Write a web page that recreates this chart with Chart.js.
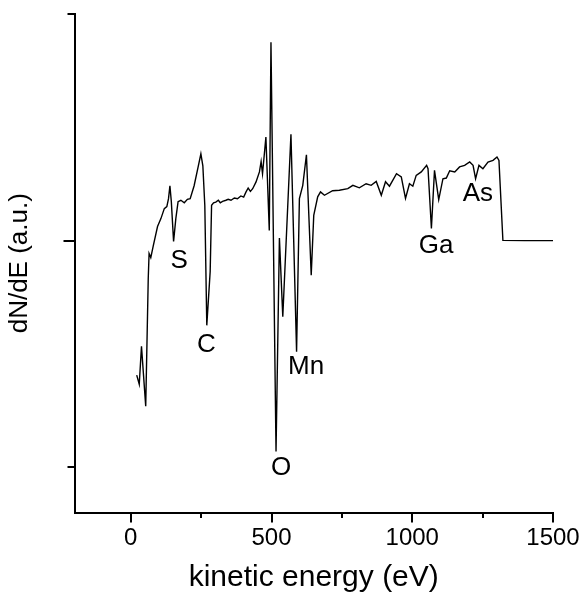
<!DOCTYPE html>
<html>
<head>
<meta charset="utf-8">
<script src="https://cdn.jsdelivr.net/npm/chart.js@4.4.1/dist/chart.umd.min.js"></script>
<style>
  html, body { margin: 0; padding: 0; background: #fff; }
  #wrap { width: 579px; height: 596px; }
</style>
</head>
<body>
<div id="wrap"><canvas id="aes"></canvas></div>
<script>
// Auger spectrum
const energy = [21, 30, 38, 53, 62, 65, 71, 80, 95, 107, 119, 128, 134, 139, 144, 152, 160, 168, 178, 190, 201, 211, 225, 240, 249, 256, 263, 270, 282, 287, 294, 302, 311, 318, 326, 338, 346, 356, 368, 379, 391, 401, 409, 417, 425, 433, 445, 457, 463, 468, 480, 492, 498, 516, 528, 540, 569, 589, 599, 611, 624, 641, 650, 664, 674, 688, 717, 741, 771, 789, 812, 836, 854, 872, 890, 905, 919, 944, 961, 976, 990, 1002, 1014, 1032, 1051, 1056, 1068, 1079, 1094, 1109, 1121, 1133, 1151, 1168, 1186, 1204, 1216, 1225, 1237, 1251, 1269, 1287, 1301, 1308, 1322, 1400, 1500];
const dNdE = [-0.594, -0.634, -0.467, -0.731, -0.167, -0.057, -0.075, -0.022, 0.062, 0.097, 0.141, 0.150, 0.185, 0.242, 0.172, -0.004, 0.097, 0.172, 0.178, 0.167, 0.182, 0.185, 0.242, 0.330, 0.383, 0.330, 0.154, -0.374, -0.137, 0.156, 0.167, 0.170, 0.178, 0.167, 0.173, 0.178, 0.182, 0.178, 0.188, 0.185, 0.197, 0.192, 0.214, 0.232, 0.217, 0.229, 0.259, 0.303, 0.349, 0.295, 0.457, 0.045, 0.875, -0.931, 0.011, -0.336, 0.469, -0.490, 0.185, 0.244, 0.379, -0.153, 0.111, 0.193, 0.215, 0.200, 0.220, 0.222, 0.229, 0.244, 0.233, 0.251, 0.244, 0.261, 0.200, 0.260, 0.240, 0.295, 0.281, 0.186, 0.251, 0.240, 0.288, 0.303, 0.332, 0.317, 0.053, 0.310, 0.181, 0.273, 0.276, 0.308, 0.303, 0.325, 0.332, 0.347, 0.332, 0.273, 0.332, 0.317, 0.346, 0.354, 0.369, 0.354, 0.001, 0, 0];

const xTicks = [0, 250, 500, 750, 1000, 1250, 1500];
const yTicks = [-1, 0, 1];

// element labels, placed in data units
const peakNames = ['S', 'C', 'O', 'Mn', 'Ga', 'As'];
const peakEnergy = [172, 269, 534, 623, 1085, 1233];
const peakLevel = [-0.088, -0.461, -1.001, -0.556, -0.021, 0.207];

const FONT = "'Liberation Sans', Arial, sans-serif";

const tickMarks = {
  id: 'tickMarks',
  afterDraw(chart) {
    const { ctx, scales: { x, y } } = chart;
    ctx.save();
    ctx.strokeStyle = '#000';
    ctx.lineWidth = 2;
    xTicks.forEach(v => {
      const px = Math.round(x.getPixelForValue(v));
      const len = v % 500 === 0 ? 10 : 5.5;
      ctx.beginPath();
      ctx.moveTo(px, y.bottom);
      ctx.lineTo(px, y.bottom + len);
      ctx.stroke();
    });
    yTicks.forEach(v => {
      const py = Math.round(y.getPixelForValue(v));
      const len = v === 0 ? 11 : 7;
      ctx.beginPath();
      ctx.moveTo(x.left, py);
      ctx.lineTo(x.left - len, py);
      ctx.stroke();
    });
    ctx.restore();
  }
};

const peakText = {
  id: 'peakText',
  afterDatasetsDraw(chart) {
    const { ctx, scales: { x, y } } = chart;
    ctx.save();
    ctx.fillStyle = '#000';
    ctx.font = '26px ' + FONT;
    ctx.textAlign = 'center';
    ctx.textBaseline = 'middle';
    peakNames.forEach((name, i) => {
      ctx.fillText(name, x.getPixelForValue(peakEnergy[i]), y.getPixelForValue(peakLevel[i]));
    });
    ctx.restore();
  }
};

new Chart(document.getElementById('aes'), {
  type: 'line',
  data: {
    datasets: [{
      data: energy.map((e, i) => ({ x: e, y: dNdE[i] })),
      borderColor: '#000',
      borderWidth: 1.4,
      pointRadius: 0,
      tension: 0,
      fill: false,
    }],
  },
  options: {
    responsive: true,
    maintainAspectRatio: false,
    animation: false,
    layout: { padding: { top: 14, left: 0, right: 0, bottom: 0 } },
    plugins: {
      legend: { display: false },
      tooltip: { enabled: false },
    },
    scales: {
      x: {
        type: 'linear',
        min: -200,
        max: 1500,
        afterBuildTicks: s => { s.ticks = xTicks.map(v => ({ value: v })); },
        afterFit: s => {
          s.height = 83.5;
          s.paddingLeft = 0;
          s.paddingRight = 26;
        },
        grid: { display: false, drawTicks: false },
        border: { display: true, color: '#000', width: 2 },
        ticks: {
          color: '#000',
          font: { family: FONT, size: 24 },
          padding: 11,
          maxRotation: 0,
          autoSkip: false,
          callback: v => (v % 500 === 0 ? v : ''),
        },
        title: {
          display: true,
          text: 'kinetic energy (eV)',
          color: '#000',
          font: { family: FONT, size: 30 },
          padding: { top: 0, bottom: 0 },
        },
      },
      y: {
        min: -1.2,
        max: 1,
        afterBuildTicks: s => { s.ticks = yTicks.map(v => ({ value: v })); },
        afterFit: s => { s.width = 74.5; },
        grid: { display: false, drawTicks: false },
        border: { display: true, color: '#000', width: 2 },
        ticks: { display: false },
        title: {
          display: true,
          text: 'dN/dE (a.u.)',
          color: '#000',
          font: { family: FONT, size: 26 },
          padding: { top: 4, bottom: 0 },
        },
      },
    },
  },
  plugins: [tickMarks, peakText],
});
</script>
</body>
</html>
